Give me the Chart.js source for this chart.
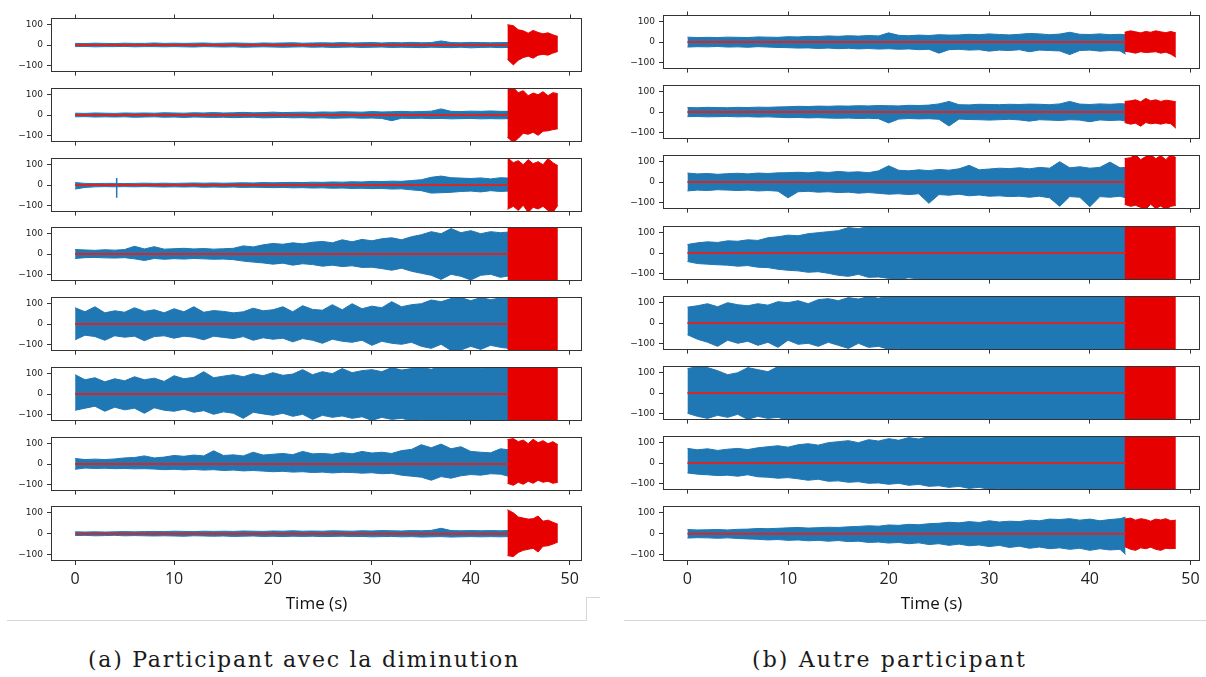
<!DOCTYPE html>
<html><head><meta charset="utf-8">
<script src="https://cdn.jsdelivr.net/npm/chart.js@4.4.1/dist/chart.umd.min.js"></script>
<style>
body{margin:0;background:#fff;width:1206px;height:677px;overflow:hidden;position:relative;}
canvas{position:absolute;}
.cap{position:absolute;font-family:'DejaVu Serif',serif;font-size:22px;line-height:22px;color:#1a1a1a;white-space:nowrap;font-weight:normal;}
.ln{position:absolute;background:#d6d6d6;}
</style></head><body>
<div class="ln" style="left:7px;top:620px;width:580px;height:1px"></div>
<div class="ln" style="left:586px;top:597px;width:1px;height:24px"></div>
<div class="ln" style="left:586px;top:597px;width:14px;height:1px"></div>
<div class="ln" style="left:624px;top:620px;width:582px;height:1px"></div>
<div class="cap" id="capA" style="left:88px;top:649px">(a) Participant avec la diminution</div>
<div class="cap" id="capB" style="left:752px;top:649px">(b) Autre participant</div>
<script>
// ---------- data ----------
const xTicks = [0, 10, 20, 30, 40, 50];
const yTicks = [-100, 0, 100];
const timeTitle = 'Time (s)';

const timesA = [0,1,2,3,4,5,6,7,8,9,10,11,12,13,14,15,16,17,18,19,20,21,22,23,24,25,26,27,28,29,30,31,32,33,34,35,36,37,38,39,40,41,42,43,43.8];
const redTimesA = [43.7,44.3,44.8,45.3,45.8,46.3,46.8,47.3,47.8,48.3,48.8];
const timesB = [0,1,2,3,4,5,6,7,8,9,10,11,12,13,14,15,16,17,18,19,20,21,22,23,24,25,26,27,28,29,30,31,32,33,34,35,36,37,38,39,40,41,42,43,43.55];
const redTimesB = [43.45,44.05,44.55,45.05,45.55,46.05,46.55,47.05,47.55,48.05,48.55];

// (a) participant avec la diminution
const a1Top = [8,7,9,8,7, 9,8,8,10,8, 9,8,9,10,8, 9,10,9,8,10, 9,10,11,9,10, 11,10,12,10,11, 12,10,12,11,13, 11,12,20,12,11, 13,12,11,12,12];
const a1Bot = [-8,-7,-9,-8,-8, -7,-9,-8,-8,-9, -8,-9,-10,-8,-9, -10,-9,-11,-10,-9, -10,-11,-10,-9,-11, -10,-12,-11,-10,-12, -11,-10,-12,-11,-12, -13,-11,-12,-13,-11, -14,-12,-11,-13,-12];
const a1RedTop = [100,95,75,70,58,72,62,55,60,50,42];
const a1RedBot = [-70,-98,-75,-62,-55,-65,-50,-46,-50,-40,-32];

const a2Top = [9,8,10,9,8, 10,9,10,9,11, 10,9,11,10,12, 10,11,13,11,12, 14,12,13,14,13, 15,14,16,15,14, 17,15,16,18,16, 17,19,30,18,17, 19,18,20,18,18];
const a2Bot = [-9,-8,-10,-9,-10, -9,-11,-10,-9,-11, -10,-12,-10,-11,-12, -11,-13,-12,-11,-14, -13,-12,-14,-13,-15, -14,-16,-15,-14,-16, -15,-17,-28,-16,-17, -16,-18,-17,-19,-18, -17,-19,-18,-19,-18];
const a2RedTop = [135,135,110,120,95,108,100,115,95,110,105];
const a2RedBot = [-110,-135,-115,-90,-95,-85,-100,-80,-78,-72,-68];

const a3Top = [12,8,7,8,8, 7,8,9,8,9, 8,9,10,9,10, 9,10,11,10,12, 11,12,13,12,14, 13,15,14,16,15, 18,17,19,18,22, 26,38,44,36,34, 32,35,30,36,34];
const a3Bot = [-20,-12,-9,-8,-9, -8,-9,-8,-9,-10, -9,-10,-9,-11,-10, -11,-10,-12,-11,-12, -13,-12,-14,-13,-15, -14,-16,-15,-17,-16, -18,-17,-20,-19,-24, -28,-40,-38,-36,-32, -30,-34,-28,-32,-30];
const a3RedTop = [135,110,120,100,125,105,115,100,130,110,95];
const a3RedBot = [-120,-105,-125,-100,-135,-110,-118,-105,-125,-135,-100];
const a3SpikeT = [4.2, 4.2];
const a3SpikeY = [35, -63];

const a4Top = [22,20,18,21,19, 22,38,25,36,24, 26,28,25,27,24, 26,28,40,35,45, 52,48,55,50,58, 62,55,70,60,72, 65,75,80,70,85, 95,110,100,125,105, 115,100,110,105,108];
const a4Bot = [-22,-18,-17,-19,-20, -18,-24,-32,-22,-26, -23,-25,-22,-24,-26, -25,-28,-35,-40,-44, -50,-45,-55,-48,-52, -60,-55,-62,-58,-66, -65,-72,-80,-70,-85, -95,-105,-125,-100,-110, -128,-105,-100,-115,-108];
const a4RedTop = [140,140,140,140,140,140,140,140,140,140,140];
const a4RedBot = [-140,-140,-140,-140,-140,-140,-140,-140,-140,-140,-140];

const a5Top = [80,60,85,55,65, 58,80,62,70,55, 75,60,85,58,66, 62,55,60,78,65, 70,85,60,90,72, 68,95,70,100,75, 88,80,110,85,95, 100,118,110,125,130, 115,130,120,128,125];
const a5Bot = [-78,-55,-62,-80,-58, -65,-60,-82,-62,-58, -70,-60,-65,-78,-60, -66,-72,-62,-80,-68, -75,-70,-88,-72,-80, -95,-75,-85,-90,-80, -105,-85,-95,-100,-90, -110,-120,-100,-130,-128, -110,-125,-105,-115,-120];
const a5RedTop = [140,140,140,140,140,140,140,140,140,140,140];
const a5RedBot = [-140,-140,-140,-140,-140,-140,-140,-140,-140,-140,-140];

const a6Top = [95,70,80,60,75, 65,85,70,78,62, 90,75,82,110,80, 88,95,85,100,90, 105,92,98,120,95, 110,100,125,105,115, 120,110,130,118,125, 130,122,135,128,130, 135,125,132,130,135];
const a6Bot = [-80,-70,-60,-85,-65, -78,-70,-95,-68,-80, -85,-75,-90,-82,-100, -88,-95,-120,-90,-98, -105,-95,-110,-100,-125, -105,-115,-108,-120,-112, -130,-115,-125,-120,-132, -125,-130,-135,-128,-130, -132,-135,-130,-128,-135];
const a6RedTop = [140,140,140,140,140,140,140,140,140,140,140];
const a6RedBot = [-140,-140,-140,-140,-140,-140,-140,-140,-140,-140,-140];

const a7Top = [27,22,24,22,25, 30,32,40,30,34, 42,38,44,40,65, 42,45,40,58,44, 48,52,46,62,50, 52,48,56,50,62, 54,58,52,66,72, 95,80,98,75,85, 62,58,55,75,70];
const a7Bot = [-26,-20,-22,-21,-23, -22,-24,-23,-25,-28, -26,-29,-27,-30,-28, -32,-30,-34,-32,-35, -38,-36,-40,-38,-42, -40,-44,-41,-42,-45, -43,-48,-46,-55,-60, -65,-80,-62,-70,-58, -52,-55,-48,-50,-60];
const a7RedTop = [120,125,110,118,100,122,105,115,100,110,95];
const a7RedBot = [-95,-105,-90,-100,-85,-95,-80,-90,-85,-95,-90];

const a8Top = [9,8,9,8,9, 10,9,10,11,10, 12,11,10,12,11, 12,11,13,12,11, 13,12,14,12,13, 12,14,13,12,14, 13,15,14,13,15, 14,16,26,15,14, 15,14,15,14,15];
const a8Bot = [-9,-8,-10,-9,-8, -10,-9,-10,-11,-10, -11,-12,-10,-11,-12, -11,-13,-12,-11,-13, -12,-14,-12,-13,-12, -14,-13,-12,-14,-13, -15,-14,-13,-15,-14, -16,-15,-14,-16,-15, -14,-15,-14,-15,-14];
const a8RedTop = [115,100,80,75,70,72,85,60,65,55,45];
const a8RedBot = [-105,-110,-90,-80,-75,-70,-88,-60,-58,-50,-40];

// (b) autre participant
const b1Top = [24,22,23,22,24, 23,22,25,24,23, 26,25,28,27,30, 28,31,29,32,30, 45,33,31,34,32, 36,34,35,38,36, 40,37,35,38,42, 40,36,39,48,38, 37,40,36,38,36];
const b1Bot = [-25,-23,-24,-22,-25, -24,-26,-23,-25,-27, -28,-30,-29,-32,-30, -33,-31,-34,-32,-35, -33,-36,-34,-38,-36, -55,-38,-36,-40,-38, -45,-40,-42,-38,-48, -40,-42,-44,-62,-42, -40,-45,-42,-44,-60];
const b1RedTop = [48,55,50,45,52,48,55,50,46,52,45];
const b1RedBot = [-45,-50,-55,-48,-52,-50,-48,-55,-50,-60,-75];

const b2Top = [22,21,23,22,21, 23,22,24,23,25, 26,28,27,29,28, 30,29,31,30,32, 31,30,33,32,34, 40,52,36,35,38, 37,36,38,37,39, 38,36,40,52,39, 37,40,38,41,40];
const b2Bot = [-23,-22,-24,-23,-22, -24,-23,-25,-24,-26, -28,-27,-29,-28,-30, -31,-30,-32,-31,-33, -54,-35,-32,-34,-33, -36,-69,-35,-37,-38, -40,-38,-36,-39,-45, -38,-40,-42,-38,-40, -48,-39,-42,-40,-45];
const b2RedTop = [52,55,60,50,67,55,60,52,58,55,50];
const b2RedBot = [-52,-60,-55,-70,-52,-58,-55,-60,-54,-58,-80];

const b3Top = [44,40,42,38,41, 43,40,44,42,45, 46,48,45,50,47, 52,48,50,46,55, 80,58,55,60,56, 62,58,65,82,60, 64,68,66,70,65, 72,68,100,70,75, 68,72,98,70,72];
const b3Bot = [-44,-40,-42,-38,-40, -42,-40,-44,-42,-45, -78,-48,-46,-50,-48, -52,-50,-55,-52,-56, -60,-58,-62,-58,-105, -62,-65,-60,-68,-64, -70,-68,-72,-70,-75, -70,-78,-120,-72,-75, -122,-72,-75,-70,-78];
const b3RedTop = [115,120,135,110,125,135,115,130,110,135,120];
const b3RedBot = [-110,-120,-115,-125,-135,-110,-130,-118,-135,-120,-115];

const b4Top = [42,50,55,52,60, 58,65,62,75,80, 88,85,95,100,105, 110,125,120,130,128, 135,140,132,138,140, 135,140,138,140,135, 140,130,140,138,140, 135,140,138,140,140, 138,140,135,140,140];
const b4Bot = [-42,-52,-55,-58,-60, -65,-62,-70,-72,-80, -85,-88,-95,-92,-100, -110,-115,-105,-120,-118, -125,-130,-122,-128,-135, -140,-130,-135,-140,-138, -140,-135,-140,-140,-138, -140,-140,-135,-140,-140, -140,-138,-140,-140,-140];
const b4RedTop = [140,140,140,140,140,140,140,140,140,140,140];
const b4RedBot = [-140,-140,-140,-140,-140,-140,-140,-140,-140,-140,-140];

const b5Top = [78,85,95,80,100, 90,85,95,88,105, 100,110,95,115,120, 110,125,118,130,122, 135,130,140,132,140, 138,140,140,140,135, 140,140,138,140,140, 140,140,140,140,140, 140,140,140,140,140];
const b5Bot = [-58,-80,-95,-115,-85, -100,-90,-110,-95,-120, -85,-105,-100,-115,-95, -110,-125,-100,-120,-115, -130,-125,-140,-130,-135, -140,-132,-140,-140,-140, -138,-140,-140,-140,-140, -140,-140,-140,-140,-140, -140,-140,-140,-140,-140];
const b5RedTop = [140,140,140,140,140,140,140,140,140,140,140];
const b5RedBot = [-140,-140,-140,-140,-140,-140,-140,-140,-140,-140,-140];

const b6Top = [120,130,125,110,90, 100,125,115,105,130, 135,128,140,135,140, 138,140,140,140,140, 140,140,140,140,140, 140,140,140,140,140, 140,140,140,140,140, 140,140,140,140,140, 140,140,140,140,140];
const b6Bot = [-100,-115,-125,-110,-120, -105,-130,-115,-125,-120, -135,-130,-140,-135,-140, -140,-140,-140,-140,-140, -140,-140,-140,-140,-140, -140,-140,-140,-140,-140, -140,-140,-140,-140,-140, -140,-140,-140,-140,-140, -140,-140,-140,-140,-140];
const b6RedTop = [140,140,140,140,140,140,140,140,140,140,140];
const b6RedBot = [-140,-140,-140,-140,-140,-140,-140,-140,-140,-140,-140];

const b7Top = [72,65,70,62,68, 72,66,75,80,85, 78,90,95,88,100, 105,110,100,115,108, 120,112,125,118,130, 125,135,130,140,135, 140,138,140,140,140, 140,140,140,140,140, 140,140,140,140,140];
const b7Bot = [-49,-55,-58,-62,-60, -65,-58,-68,-70,-75, -72,-78,-85,-80,-90, -88,-95,-92,-100,-98, -105,-100,-110,-105,-115, -112,-120,-115,-125,-120, -130,-125,-135,-130,-140, -135,-140,-140,-138,-140, -140,-140,-140,-140,-140];
const b7RedTop = [140,140,140,140,140,140,140,140,140,140,140];
const b7RedBot = [-140,-140,-140,-140,-140,-140,-140,-140,-140,-140,-140];

const b8Top = [20,18,19,20,18, 21,22,25,24,26, 28,30,27,29,31, 30,33,35,38,36, 42,40,45,43,48, 50,55,52,58,54, 62,56,60,58,65, 62,70,68,72,65, 70,62,68,72,80];
const b8Bot = [-21,-19,-20,-22,-20, -23,-25,-27,-30,-28, -32,-30,-34,-32,-36, -33,-38,-36,-42,-40, -45,-42,-48,-44,-52, -48,-56,-50,-58,-54, -62,-56,-66,-60,-70, -64,-72,-68,-75,-70, -80,-72,-78,-75,-100];
const b8RedTop = [70,75,65,72,68,60,70,66,72,62,65];
const b8RedBot = [-62,-75,-80,-68,-72,-65,-75,-80,-70,-72,-70];

// ---------- layout / style ----------
const BLUE = '#1f77b4', RED = '#e60000', MEAN = '#d62728', AXIS = '#333333';
const panels = [
  { left: 0, width: 600, padRight: 18, xMin: -2.44, xMax: 51.24,
    tops: [15, 85, 155, 224, 294, 364, 434, 503],
    times: timesA, redTimes: redTimesA,
    rows: [[a1Top,a1Bot,a1RedTop,a1RedBot],[a2Top,a2Bot,a2RedTop,a2RedBot],
           [a3Top,a3Bot,a3RedTop,a3RedBot,a3SpikeT,a3SpikeY],[a4Top,a4Bot,a4RedTop,a4RedBot],
           [a5Top,a5Bot,a5RedTop,a5RedBot],[a6Top,a6Bot,a6RedTop,a6RedBot],
           [a7Top,a7Bot,a7RedTop,a7RedBot],[a8Top,a8Bot,a8RedTop,a8RedBot]] },
  { left: 612, width: 594, padRight: 6, xMin: -2.43, xMax: 50.95,
    tops: [12, 82, 152, 223, 293, 363, 433, 503],
    times: timesB, redTimes: redTimesB,
    rows: [[b1Top,b1Bot,b1RedTop,b1RedBot],[b2Top,b2Bot,b2RedTop,b2RedBot],
           [b3Top,b3Bot,b3RedTop,b3RedBot],[b4Top,b4Bot,b4RedTop,b4RedBot],
           [b5Top,b5Bot,b5RedTop,b5RedBot],[b6Top,b6Bot,b6RedTop,b6RedBot],
           [b7Top,b7Bot,b7RedTop,b7RedBot],[b8Top,b8Bot,b8RedTop,b8RedBot]] }
];
const BOX_H = 58, PAD_T = 6, XH_SMALL = 8, XH_BOTTOM = 53;

const boxPlugin = {
  id: 'box',
  afterDatasetsDraw(chart, args, opts) {
    const { ctx, chartArea: a } = chart;
    ctx.save();
    ctx.strokeStyle = AXIS; ctx.lineWidth = 1;
    const l = Math.round(a.left) + 0.5, t = Math.round(a.top) + 0.5;
    const r = Math.round(a.right) - 0.5, b = Math.round(a.bottom) - 0.5;
    ctx.strokeRect(l, t, r - l, b - t);
    if (opts.topTicks) {
      const xs = chart.scales.x;
      xTicks.forEach(v => {
        const px = Math.round(xs.getPixelForValue(v)) + 0.5;
        ctx.beginPath(); ctx.moveTo(px, t - 4); ctx.lineTo(px, t); ctx.stroke();
      });
    }
    ctx.restore();
  }
};

function pts(xs, ys) { return xs.map((x, i) => ({ x: x, y: ys[i] })); }
function lineDs(data, color, fill, order, width) {
  return { data, borderColor: color, backgroundColor: color, borderWidth: width, pointRadius: 0,
           fill, order, tension: 0 };
}

panels.forEach(p => {
  p.rows.forEach((row, k) => {
    const bottom = k === p.rows.length - 1;
    const xh = bottom ? XH_BOTTOM : XH_SMALL;
    const cv = document.createElement('canvas');
    cv.width = p.width; cv.height = PAD_T + BOX_H + xh;
    cv.style.left = p.left + 'px'; cv.style.top = (p.tops[k] - PAD_T) + 'px';
    cv.style.width = cv.width + 'px'; cv.style.height = cv.height + 'px';
    document.body.appendChild(cv);
    const split = p.times[p.times.length - 1];
    const datasets = [
      lineDs([{ x: 0, y: 0 }, { x: split, y: 0 }], MEAN, false, 0, 2),
      lineDs(pts(p.times, row[0]), BLUE, false, 3, 1),
      lineDs(pts(p.times, row[1]), BLUE, '-1', 3, 1),
      lineDs(pts(p.redTimes, row[2]), RED, false, 2, 1),
      lineDs(pts(p.redTimes, row[3]), RED, '-1', 2, 1)
    ];
    if (row[4]) datasets.push(lineDs(pts(row[4], row[5]), BLUE, false, 1, 1.5));
    new Chart(cv, {
      type: 'line',
      data: { datasets },
      options: {
        responsive: false, animation: false, devicePixelRatio: 1, events: [],
        layout: { padding: { top: PAD_T, right: p.padRight, left: 0, bottom: 0 } },
        plugins: { legend: { display: false }, tooltip: { enabled: false }, box: { topTicks: k === 0 } },
        scales: {
          x: {
            type: 'linear', min: p.xMin, max: p.xMax,
            afterBuildTicks: s => { s.ticks = xTicks.map(v => ({ value: v })); },
            afterFit: s => { s.height = xh; },
            ticks: { display: bottom, font: { family: 'Open Sans', size: 16 }, color: '#222', padding: 5,
                     maxRotation: 0, autoSkip: false },
            grid: { drawOnChartArea: false, drawTicks: true, tickLength: 4, color: AXIS },
            border: { display: false },
            title: { display: bottom, text: timeTitle, font: { family: 'Open Sans', size: 17 }, color: '#111',
                     padding: { top: 0, bottom: 0 } }
          },
          y: {
            type: 'linear', min: -131, max: 131,
            afterBuildTicks: s => { s.ticks = yTicks.map(v => ({ value: v })); },
            afterFit: s => { s.width = 51; },
            ticks: { font: { family: 'DejaVu Sans', size: 9 }, color: '#222', padding: 4,
                     callback: v => String(v).replace('-', '\u2212') },
            grid: { drawOnChartArea: false, drawTicks: true, tickLength: 4, color: AXIS },
            border: { display: false }
          }
        }
      },
      plugins: [boxPlugin]
    });
  });
});

function fitCaption(id, target) {
  const el = document.getElementById(id);
  el.style.letterSpacing = '0px';
  const w = el.getBoundingClientRect().width;
  const n = el.textContent.length;
  el.style.letterSpacing = ((target - w) / n) + 'px';
}
function fitAll() { fitCaption('capA', 432); fitCaption('capB', 275); }
fitAll();
if (document.fonts && document.fonts.load) {
  document.fonts.load('22px "DejaVu Serif"').then(fitAll, fitAll);
}
</script>
</body></html>
